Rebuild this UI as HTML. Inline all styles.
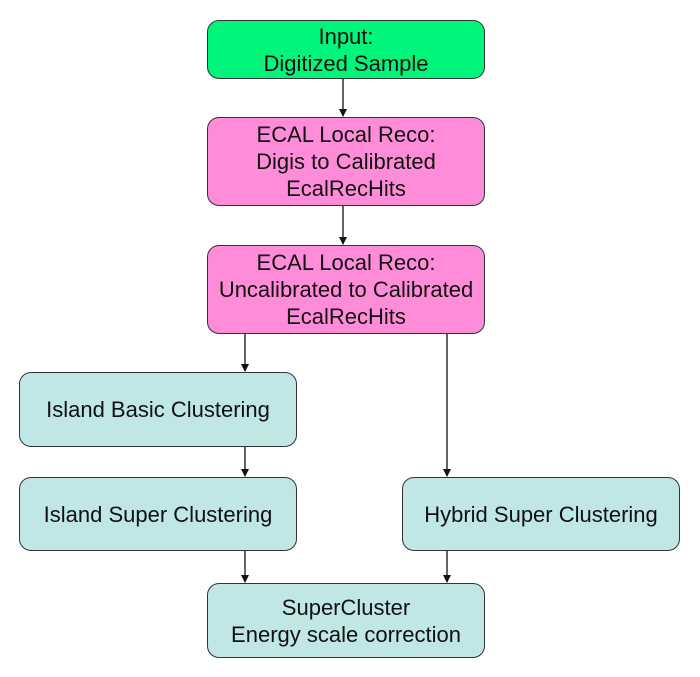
<!DOCTYPE html>
<html><head><style>
body{margin:0;width:700px;height:677px;background:#fff;position:relative;font-family:"Liberation Sans",sans-serif;}
.b{position:absolute;box-sizing:border-box;border:1.5px solid #333;border-radius:12px;display:flex;align-items:center;justify-content:center;text-align:center;font-size:22px;line-height:27px;color:#111;}
.g{background:#00f57a}.p{background:#ff8cd8}.t{background:#c0e6e6}
svg{position:absolute;left:0;top:0}
</style></head><body>
<svg width="700" height="677">
<defs><marker id="a" markerWidth="8" markerHeight="8" refX="7" refY="4" orient="auto" markerUnits="userSpaceOnUse"><path d="M0,0 L8,4 L0,8 z" fill="#111"/></marker></defs>
<g stroke="#111" stroke-width="1.3" marker-end="url(#a)">
<line x1="343" y1="79" x2="343" y2="116"/>
<line x1="343" y1="206" x2="343" y2="244"/>
<line x1="245" y1="334" x2="245" y2="371"/>
<line x1="447" y1="334" x2="447" y2="476"/>
<line x1="245" y1="447" x2="245" y2="476"/>
<line x1="245" y1="551" x2="245" y2="582"/>
<line x1="447" y1="551" x2="447" y2="582"/>
</g></svg>
<div class="b g" style="left:207px;top:20px;width:278px;height:59px">Input:<br>Digitized Sample</div>
<div class="b p" style="left:207px;top:117px;width:278px;height:89px">ECAL Local Reco:<br>Digis to Calibrated<br>EcalRecHits</div>
<div class="b p" style="left:207px;top:245px;width:278px;height:89px">ECAL Local Reco:<br>Uncalibrated to Calibrated<br>EcalRecHits</div>
<div class="b t" style="left:19px;top:372px;width:278px;height:75px">Island Basic Clustering</div>
<div class="b t" style="left:19px;top:477px;width:278px;height:74px">Island Super Clustering</div>
<div class="b t" style="left:402px;top:477px;width:278px;height:74px">Hybrid Super Clustering</div>
<div class="b t" style="left:207px;top:583px;width:278px;height:75px">SuperCluster<br>Energy scale correction</div>
</body></html>
